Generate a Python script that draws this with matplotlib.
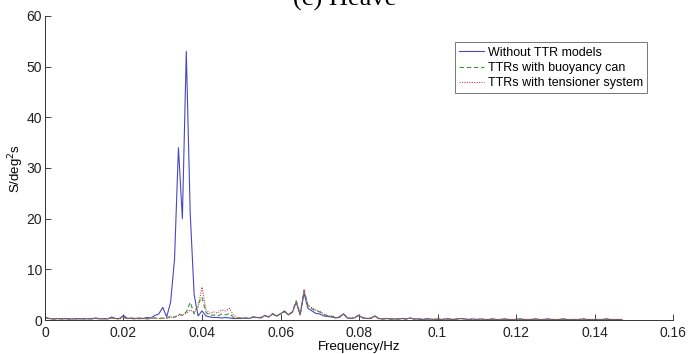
import numpy as np
import matplotlib
matplotlib.use('agg')
import matplotlib.pyplot as plt

plt.rcParams['font.family'] = ['Liberation Sans', 'DejaVu Sans']

# frequency grid, 0.001 Hz steps, 0 .. 0.147 Hz
freq = np.round(np.arange(0, 148) * 0.001, 3)

without_ttr = [
    0.6, 0.3, 0.2, 0.3, 0.2, 0.3, 0.2, 0.2, 0.3, 0.2,
    0.3, 0.2, 0.3, 0.4, 0.2, 0.3, 0.2, 0.6, 0.3, 0.3,
    0.9, 0.3, 0.4, 0.3, 0.4, 0.3, 0.5, 0.4, 0.9, 1.2,
    2.5, 0.6, 3.5, 12.0, 34.0, 20.0, 53.0, 21.0, 5.0, 0.8,
    1.8, 0.8, 0.6, 0.5, 0.5, 0.4, 0.5, 0.4, 0.3, 0.3,
    0.3, 0.4, 0.3, 0.6, 0.5, 0.4, 0.9, 0.6, 1.2, 0.8,
    1.2, 1.8, 1.0, 1.5, 3.5, 1.0, 5.3, 2.3, 1.8, 1.3,
    1.2, 0.8, 0.7, 0.6, 0.4, 0.5, 1.2, 0.4, 0.3, 0.5,
    0.9, 0.4, 0.3, 0.3, 0.8, 0.3, 0.2, 0.3, 0.2, 0.2,
    0.2, 0.3, 0.2, 0.4, 0.2, 0.2, 0.1, 0.2, 0.2, 0.1,
    0.2, 0.1, 0.2, 0.2, 0.1, 0.2, 0.3, 0.2, 0.1, 0.2,
    0.1, 0.2, 0.1, 0.1, 0.2, 0.1, 0.1, 0.2, 0.1, 0.1,
    0.1, 0.2, 0.1, 0.1, 0.1, 0.2, 0.1, 0.1, 0.2, 0.1,
    0.1, 0.1, 0.2, 0.1, 0.1, 0.1, 0.1, 0.2, 0.1, 0.1,
    0.1, 0.1, 0.1, 0.2, 0.1, 0.1, 0.1, 0.1,
]

buoyancy_can = [
    0.4, 0.3, 0.2, 0.2, 0.3, 0.2, 0.2, 0.3, 0.2, 0.3,
    0.2, 0.3, 0.2, 0.3, 0.3, 0.2, 0.3, 0.4, 0.2, 0.3,
    0.5, 0.3, 0.3, 0.2, 0.3, 0.3, 0.2, 0.3, 0.4, 0.3,
    0.4, 0.3, 0.8, 0.5, 1.2, 0.9, 1.6, 3.5, 1.2, 3.2,
    4.5, 1.5, 0.9, 1.0, 0.8, 1.2, 1.0, 1.3, 0.5, 0.4,
    0.4, 0.4, 0.3, 0.6, 0.5, 0.5, 0.8, 0.6, 1.3, 0.7,
    1.3, 1.6, 1.1, 1.6, 3.8, 1.2, 5.8, 2.8, 2.2, 1.8,
    1.6, 1.1, 0.8, 0.8, 0.5, 0.6, 1.3, 0.5, 0.3, 0.6,
    1.0, 0.4, 0.3, 0.4, 0.8, 0.3, 0.2, 0.3, 0.2, 0.3,
    0.2, 0.3, 0.2, 0.4, 0.2, 0.2, 0.2, 0.2, 0.2, 0.1,
    0.2, 0.1, 0.2, 0.2, 0.1, 0.2, 0.3, 0.2, 0.1, 0.2,
    0.1, 0.2, 0.1, 0.1, 0.2, 0.1, 0.1, 0.2, 0.1, 0.1,
    0.1, 0.2, 0.1, 0.1, 0.1, 0.2, 0.1, 0.1, 0.2, 0.1,
    0.1, 0.1, 0.2, 0.1, 0.1, 0.1, 0.1, 0.2, 0.1, 0.1,
    0.1, 0.1, 0.1, 0.2, 0.1, 0.1, 0.1, 0.1,
]

tensioner = [
    0.4, 0.3, 0.2, 0.3, 0.2, 0.2, 0.3, 0.2, 0.2, 0.3,
    0.2, 0.3, 0.2, 0.3, 0.2, 0.3, 0.3, 0.4, 0.3, 0.2,
    0.5, 0.3, 0.3, 0.3, 0.2, 0.3, 0.3, 0.3, 0.4, 0.3,
    0.3, 0.4, 0.5, 0.6, 0.9, 1.0, 1.3, 2.0, 1.5, 2.5,
    6.5, 2.0, 1.3, 1.6, 1.4, 2.0, 1.8, 2.3, 1.0, 0.5,
    0.4, 0.4, 0.3, 0.5, 0.5, 0.5, 0.8, 0.7, 1.2, 0.8,
    1.2, 1.7, 1.1, 1.5, 3.6, 1.1, 6.0, 3.0, 2.4, 2.0,
    1.7, 1.2, 0.9, 0.7, 0.5, 0.5, 1.2, 0.5, 0.3, 0.5,
    0.9, 0.4, 0.3, 0.3, 0.8, 0.3, 0.2, 0.3, 0.2, 0.2,
    0.2, 0.3, 0.2, 0.4, 0.2, 0.2, 0.1, 0.2, 0.2, 0.1,
    0.2, 0.1, 0.2, 0.2, 0.1, 0.2, 0.3, 0.2, 0.1, 0.2,
    0.1, 0.2, 0.1, 0.1, 0.2, 0.1, 0.1, 0.2, 0.1, 0.1,
    0.1, 0.2, 0.1, 0.1, 0.1, 0.2, 0.1, 0.1, 0.2, 0.1,
    0.1, 0.1, 0.2, 0.1, 0.1, 0.1, 0.1, 0.2, 0.1, 0.1,
    0.1, 0.1, 0.1, 0.2, 0.1, 0.1, 0.1, 0.1,
]

x_ticks = [0, 0.02, 0.04, 0.06, 0.08, 0.1, 0.12, 0.14, 0.16]
x_labels = ['0', '0.02', '0.04', '0.06', '0.08', '0.1', '0.12', '0.14', '0.16']
y_ticks = [0, 10, 20, 30, 40, 50, 60]

fig = plt.figure(figsize=(6.89, 3.54), dpi=100)
ax = fig.add_axes([0.0653, 0.096, 0.9115, 0.859])

ax.plot(freq, without_ttr, color='#4848c0', lw=0.8, label='Without TTR models')
ax.plot(freq, buoyancy_can, color='#3f8f3f', lw=0.8, ls=(0, (4, 2.5)), label='TTRs with buoyancy can')
ax.plot(freq, tensioner, color='#b84848', lw=0.8, ls=(0, (1, 1.2)), label='TTRs with tensioner system')

ax.set_xlim(0, 0.16)
ax.set_ylim(0, 60)
ax.set_xticks(x_ticks)
ax.set_xticklabels(x_labels)
ax.set_yticks(y_ticks)
ax.tick_params(direction='in', length=4, width=0.6, labelsize=10, colors='#222222', pad=2)
ax.tick_params(axis='x', pad=4)
for side in ['top', 'right']:
    ax.spines[side].set_visible(False)
for side in ['left', 'bottom']:
    ax.spines[side].set_linewidth(0.7)
    ax.spines[side].set_color('#333333')

ax.set_xlabel('Frequency/Hz', fontsize=9.5, labelpad=1)
ax.set_ylabel('S/deg$^2$s', fontsize=9.5, labelpad=0.5)

leg = ax.legend(loc='upper right', bbox_to_anchor=(0.959, 0.913), fontsize=9,
                frameon=True, fancybox=False, handlelength=2.0, handletextpad=0.3,
                borderpad=0.35, labelspacing=0.25, borderaxespad=0)
leg.get_frame().set_edgecolor('#555555')
leg.get_frame().set_linewidth(0.7)

# title is cut off at the top of the picture, as in the source figure
fig.text(0.5, 0.983, '(c) Heave', ha='center', va='baseline', fontsize=19,
         family=['Liberation Serif', 'DejaVu Serif'])

fig.savefig('out.png', dpi=100)
